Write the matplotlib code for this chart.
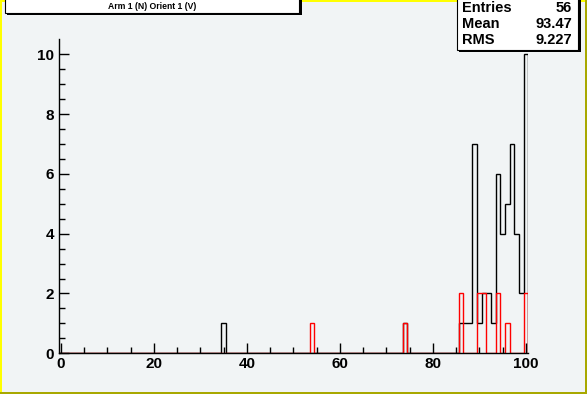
import numpy as np
import matplotlib
matplotlib.use('Agg')
import matplotlib.pyplot as plt
from matplotlib.patches import Rectangle

plt.rcParams['font.family'] = ['Liberation Sans', 'DejaVu Sans']

# histogram contents (bin centre -> count), bins are 1 wide from -0.5 to 100.5
black_bins = [35, 74, 86, 87, 88, 89, 90, 91, 92, 93, 94, 95, 96, 97, 98, 99, 100]
black_counts = [1, 1, 1, 1, 1, 7, 1, 2, 2, 1, 6, 4, 5, 7, 4, 2, 10]
red_bins = [54, 74, 86, 90, 91, 94, 96, 100]
red_counts = [1, 1, 2, 2, 2, 2, 1, 2]

title_text = 'Arm 1 (N) Orient 1 (V)'
stat_labels = ['Entries', 'Mean', 'RMS']
stat_values = ['56', '93.47', '9.227']

edges = np.arange(-0.5, 101.0, 1.0)
h_black = np.zeros(len(edges) - 1)
h_red = np.zeros(len(edges) - 1)
for b, c in zip(black_bins, black_counts):
    h_black[b] = c
for b, c in zip(red_bins, red_counts):
    h_red[b] = c

BG = '#f1f4f5'
W, H = 587, 394
fig = plt.figure(figsize=(W / 100, H / 100), dpi=100, facecolor=BG)

# axes box in pixels
left, right, top, bottom = 58.5, 528.3, 39.3, 353.3
ax = fig.add_axes([left / W, 1 - bottom / H, (right - left) / W, (bottom - top) / H])
ax.set_facecolor(BG)

ax.stairs(h_black, edges, color='black', linewidth=1.0, baseline=0)
ax.stairs(h_red, edges, color='red', linewidth=1.0, baseline=0)

ax.set_xlim(-0.5, 100.5)
ax.set_ylim(0, 10.5)
ax.set_xticks(np.arange(0, 101, 20))
ax.set_xticks(np.arange(0, 101, 5), minor=True)
ax.set_yticks(np.arange(0, 11, 2))
ax.set_yticks(np.arange(0, 10.1, 0.5), minor=True)
ax.tick_params(which='both', direction='in', width=1.0, colors='black')
ax.tick_params(which='major', length=7.5, labelsize=11, pad=3)
ax.tick_params(which='minor', length=4.5)
for lab in ax.get_xticklabels() + ax.get_yticklabels():
    lab.set_fontweight('bold')
for s in ['top', 'right']:
    ax.spines[s].set_visible(False)
for s in ['left', 'bottom']:
    ax.spines[s].set_linewidth(1.0)

# canvas border (yellow bevel)
def px(x, y, w, h, **kw):
    fig.patches.append(Rectangle((x / W, 1 - (y + h) / H), w / W, h / H,
                                 transform=fig.transFigure, **kw))

px(0, 0, W, 2, color='#ffff00', lw=0)
px(0, 0, 2, H, color='#ffff00', lw=0)
px(W - 2, 0, 2, H, color='#a8a800', lw=0)
px(0, H - 2, W, 2, color='#a8a800', lw=0)

# title box with shadow
px(7, -2, 295, 17, color='black', lw=0)
px(5, -4, 294, 17, facecolor='white', edgecolor='black', lw=0.8)
fig.text(152 / W, 1 - 6.5 / H, title_text, ha='center', va='center',
         fontsize=6.2, fontweight='bold')

# stats box with shadow
px(459, -2, 122, 54, color='black', lw=0)
px(457, -4, 121, 54, facecolor='white', edgecolor='black', lw=0.8)
for i, (lab, val) in enumerate(zip(stat_labels, stat_values)):
    yy = 1 - (8 + 16 * i) / H
    fig.text(462 / W, yy, lab, ha='left', va='center', fontsize=10.5, fontweight='bold')
    fig.text(572 / W, yy, val, ha='right', va='center', fontsize=10.5, fontweight='bold')

fig.savefig('out.png', dpi=100, facecolor=BG)
